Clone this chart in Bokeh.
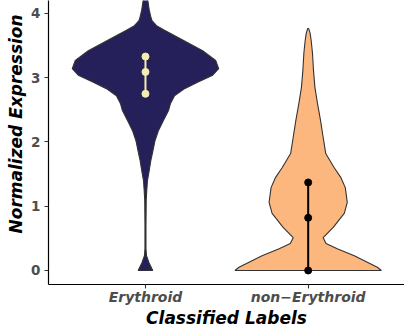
from bokeh.plotting import figure
from bokeh.models import Range1d, FixedTicker, Title
from bokeh.embed import file_html
from bokeh.resources import INLINE

# Cell classes along the x axis
categories = ["Erythroid", "non\u2212Erythroid"]
fill_colors = ["#25205A", "#FBB77E"]
quantile_colors = ["#F5EDB0", "#000000"]

# Violin profiles: expression level and relative density (1 = widest)
ery_level = [4.39, 4.28, 4.20, 4.05, 3.94, 3.89, 3.81, 3.74, 3.58, 3.42, 3.27,
             3.14, 3.04, 2.93, 2.83, 2.72, 2.60, 2.49, 2.34, 2.18, 2.02, 1.87,
             1.71, 1.56, 1.40, 1.25, 1.09, 0.70, 0.34, 0.23, 0.12, 0.0]
ery_density = [0.007, 0.021, 0.032, 0.052, 0.075, 0.089, 0.151, 0.260, 0.521,
               0.781, 0.959, 1.0, 0.918, 0.712, 0.534, 0.397, 0.342, 0.315,
               0.247, 0.178, 0.130, 0.103, 0.073, 0.052, 0.027, 0.018, 0.010,
               0.007, 0.007, 0.014, 0.048, 0.100]

non_level = [3.765, 3.69, 3.58, 3.38, 3.11, 2.85, 2.60, 2.34, 2.07, 1.82, 1.60,
             1.45, 1.29, 1.06, 0.89, 0.67, 0.51, 0.42, 0.34, 0.23, 0.13, 0.05, 0.0]
non_density = [0.007, 0.027, 0.041, 0.059, 0.073, 0.092, 0.127, 0.168, 0.205,
               0.240, 0.356, 0.445, 0.507, 0.534, 0.493, 0.342, 0.205, 0.244,
               0.397, 0.630, 0.808, 0.945, 1.0]

# Quartiles drawn inside each violin
ery_quantiles = [2.75, 3.09, 3.33]
non_quantiles = [0.0, 0.82, 1.37]

y_ticks = [0, 1, 2, 3, 4]

HALF_WIDTH = 0.45  # half of the maximum violin width, in category units

p = figure(width=404, height=331, output_backend="svg", toolbar_location=None,
           x_range=Range1d(0.404, 2.592), y_range=Range1d(-0.218, 4.202),
           min_border_left=48, min_border_right=0, min_border_top=0,
           min_border_bottom=47)

profiles = [(ery_level, ery_density, ery_quantiles),
            (non_level, non_density, non_quantiles)]

for i, (levels, dens, quants) in enumerate(profiles):
    center = i + 1
    xs = [center - HALF_WIDTH * d for d in dens] + \
         [center + HALF_WIDTH * d for d in reversed(dens)]
    ys = list(levels) + list(reversed(levels))
    p.patch(xs, ys, fill_color=fill_colors[i], line_color="#333333",
            line_width=1.1)
    p.line([center] * len(quants), quants, line_color=quantile_colors[i],
           line_width=2)
    p.scatter([center] * len(quants), quants, size=7,
              fill_color=quantile_colors[i], line_color=quantile_colors[i])

# Axes in a classic look
p.xgrid.visible = False
p.ygrid.visible = False
p.outline_line_color = None
p.background_fill_color = "white"

for ax in (p.xaxis[0], p.yaxis[0]):
    ax.axis_line_color = "black"
    ax.axis_line_width = 1.2
    ax.major_tick_line_color = "#333333"
    ax.major_tick_line_width = 1.1
    ax.major_tick_out = 4
    ax.major_tick_in = 0
    ax.minor_tick_line_color = None
    ax.major_label_text_color = "#4D4D4D"
    ax.major_label_text_font = "DejaVu Sans"

p.xaxis.ticker = FixedTicker(ticks=[1, 2])
p.xaxis.major_label_overrides = {1: categories[0], 2: categories[1]}
p.xaxis.major_label_text_font_size = "14px"
p.xaxis.major_label_text_font_style = "bold italic"
p.xaxis.major_label_standoff = 0
p.xaxis.axis_label = "Classified Labels"
p.xaxis.axis_label_text_font = "DejaVu Sans"
p.xaxis.axis_label_text_font_size = "17px"
p.xaxis.axis_label_text_font_style = "bold italic"
p.xaxis.axis_label_text_color = "black"
p.xaxis.axis_label_standoff = 0

p.yaxis.ticker = FixedTicker(ticks=y_ticks)
p.yaxis.major_label_text_font_size = "13.5px"
p.yaxis.major_label_text_font_style = "bold"
p.yaxis.major_label_standoff = 4

# Y-axis title as a side title, anchored a fixed distance above the frame bottom
ytitle = Title(text="Normalized Expression", align="left", offset=51,
               vertical_align="bottom", standoff=6,
               text_font="DejaVu Sans", text_font_size="17px",
               text_font_style="bold italic", text_color="black")
p.add_layout(ytitle, "left")

open("out.html", "w").write(file_html(p, INLINE))
